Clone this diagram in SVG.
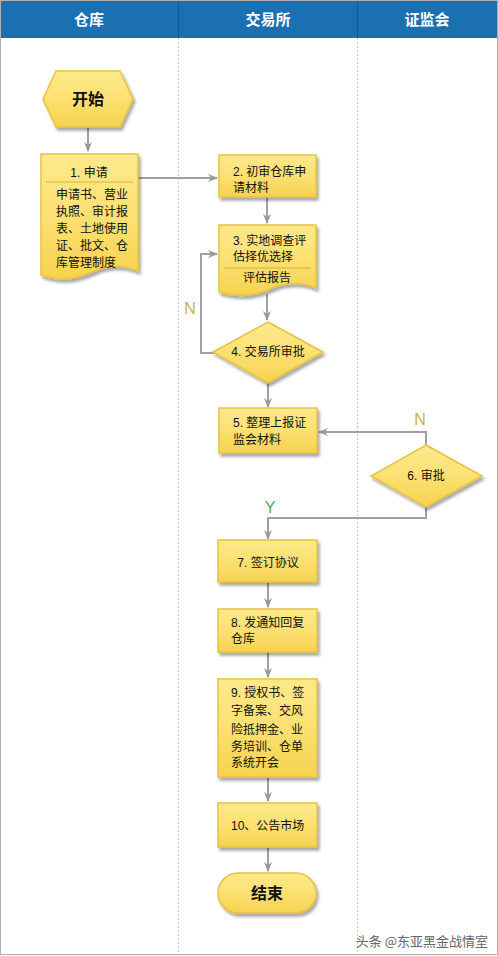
<svg xmlns="http://www.w3.org/2000/svg" width="498" height="956" viewBox="0 0 498 956">
<defs>
<linearGradient id="yg" x1="0" y1="0" x2="0" y2="1">
<stop offset="0" stop-color="#fde98c"/>
<stop offset="0.5" stop-color="#fce072"/>
<stop offset="1" stop-color="#f6d24e"/>
</linearGradient>
<filter id="sh" x="-10%" y="-10%" width="130%" height="130%">
<feGaussianBlur in="SourceAlpha" stdDeviation="1.5"/>
<feOffset dx="2" dy="3" result="b"/>
<feComponentTransfer><feFuncA type="linear" slope="0.35"/></feComponentTransfer>
<feMerge><feMergeNode/><feMergeNode in="SourceGraphic"/></feMerge>
</filter>
<marker id="ah" markerWidth="10" markerHeight="10" refX="9" refY="5" orient="auto" markerUnits="userSpaceOnUse">
<path d="M0,1 L10,5 L0,9 L3,5 Z" fill="#999"/>
</marker>
</defs>
<style>
.shape{fill:url(#yg);stroke:#e6c33c;stroke-width:1.5;filter:url(#sh)}
.t{font-family:"Liberation Sans","Noto Sans CJK SC",sans-serif;font-size:12px;fill:#111}
.b{font-family:"Noto Sans CJK SC","Liberation Sans",sans-serif;font-size:16px;font-weight:bold;fill:#111}
.h{font-family:"Noto Sans CJK SC","Liberation Sans",sans-serif;font-size:15px;font-weight:bold;fill:#fff}
.c{stroke:#a0a0a0;stroke-width:2;fill:none}
.sep{stroke:#c9a92a;stroke-width:0.8}
.lane{stroke:#cccccc;stroke-width:1;stroke-dasharray:2,2}
.lbl{font-family:"Liberation Sans","DejaVu Sans",sans-serif;font-size:16px}
</style>
<rect x="0" y="0" width="498" height="956" fill="#ffffff"/>
<g id="lanes">
<rect x="0" y="0" width="498" height="38" fill="#1a70b1"/>
<line x1="178.5" y1="0" x2="178.5" y2="38" stroke="#0f5a94" stroke-width="1"/>
<line x1="357.5" y1="0" x2="357.5" y2="38" stroke="#0f5a94" stroke-width="1"/>
<line class="lane" x1="178.5" y1="38" x2="178.5" y2="954"/>
<line class="lane" x1="357.5" y1="38" x2="357.5" y2="954"/>
<text class="h" x="89" y="25" text-anchor="middle">仓库</text>
<text class="h" x="268" y="25" text-anchor="middle">交易所</text>
<text class="h" x="427" y="25" text-anchor="middle">证监会</text>
<rect x="0.5" y="0.5" width="497" height="954" fill="none" stroke="#b0b0b0" stroke-width="1"/>
</g>
<g id="connectors">
<line class="c" x1="88" y1="128" x2="88" y2="151" marker-end="url(#ah)"/>
<line class="c" x1="138" y1="178" x2="217" y2="178" marker-end="url(#ah)"/>
<line class="c" x1="267" y1="197" x2="267" y2="223" marker-end="url(#ah)"/>
<line class="c" x1="267" y1="294" x2="267" y2="320" marker-end="url(#ah)"/>
<polyline class="c" points="215,353 201,353 201,254 217,254" marker-end="url(#ah)"/>
<line class="c" x1="268" y1="383" x2="268" y2="407" marker-end="url(#ah)"/>
<polyline class="c" points="426,445 426,432 319,432" marker-end="url(#ah)"/>
<polyline class="c" points="426,507 426,518 268,518 268,539" marker-end="url(#ah)"/>
<line class="c" x1="268" y1="582" x2="268" y2="607" marker-end="url(#ah)"/>
<line class="c" x1="268" y1="652" x2="268" y2="677" marker-end="url(#ah)"/>
<line class="c" x1="268" y1="777" x2="268" y2="801" marker-end="url(#ah)"/>
<line class="c" x1="268" y1="847" x2="268" y2="871" marker-end="url(#ah)"/>
<text class="lbl" x="190" y="314" text-anchor="middle" fill="#c8b43a">N</text>
<text class="lbl" x="420" y="425" text-anchor="middle" fill="#c8b43a">N</text>
<text class="lbl" x="270" y="513" text-anchor="middle" fill="#4caf3a">Y</text>
</g>
<g id="start">
<polygon class="shape" points="56,71 120,71 133,99 120,127 56,127 43,99"/>
<text class="b" x="88" y="105" text-anchor="middle">开始</text>
</g>
<g id="n1">
<path class="shape" d="M41,154 H138 V271 Q114,261 90,273 Q65,284 41,275 Z"/>
<text class="t" x="89" y="177" text-anchor="middle">1. 申请</text>
<line class="sep" x1="46" y1="182" x2="133" y2="182"/>
<text class="t" x="56" y="199">申请书、营业</text>
<text class="t" x="56" y="216">执照、审计报</text>
<text class="t" x="56" y="233">表、土地使用</text>
<text class="t" x="56" y="250">证、批文、仓</text>
<text class="t" x="56" y="267">库管理制度</text>
</g>
<g id="n2">
<rect class="shape" x="219" y="155" width="97" height="42"/>
<text class="t" x="233" y="176">2. 初审仓库申</text>
<text class="t" x="233" y="192">请材料</text>
</g>
<g id="n3">
<path class="shape" d="M219,225 H316 V288 Q292,278 268,290 Q243,300 219,292 Z"/>
<text class="t" x="233" y="245">3. 实地调查评</text>
<text class="t" x="233" y="261">估择优选择</text>
<line class="sep" x1="224" y1="268" x2="311" y2="268"/>
<text class="t" x="267" y="282" text-anchor="middle">评估报告</text>
</g>
<g id="n4">
<polygon class="shape" points="268,322 323,352 268,383 213,352"/>
<text class="t" x="268" y="356" text-anchor="middle">4. 交易所审批</text>
</g>
<g id="n5">
<rect class="shape" x="219" y="408" width="98" height="45"/>
<text class="t" x="233" y="427">5. 整理上报证</text>
<text class="t" x="233" y="444">监会材料</text>
</g>
<g id="n6">
<polygon class="shape" points="426,445 482,476 426,507 371,476"/>
<text class="t" x="426" y="480" text-anchor="middle">6. 审批</text>
</g>
<g id="n7">
<rect class="shape" x="218" y="540" width="99" height="42"/>
<text class="t" x="268" y="567" text-anchor="middle">7. 签订协议</text>
</g>
<g id="n8">
<rect class="shape" x="218" y="609" width="99" height="43"/>
<text class="t" x="231" y="627">8. 发通知回复</text>
<text class="t" x="231" y="643">仓库</text>
</g>
<g id="n9">
<rect class="shape" x="218" y="679" width="99" height="98"/>
<text class="t" x="231" y="697">9. 授权书、签</text>
<text class="t" x="231" y="715">字备案、交风</text>
<text class="t" x="231" y="734">险抵押金、业</text>
<text class="t" x="231" y="751">务培训、仓单</text>
<text class="t" x="231" y="767">系统开会</text>
</g>
<g id="n10">
<rect class="shape" x="218" y="803" width="99" height="44"/>
<text class="t" x="231" y="830">10、公告市场</text>
</g>
<g id="end">
<rect class="shape" x="218" y="873" width="98" height="40" rx="20" ry="20"/>
<text class="b" x="267" y="899" text-anchor="middle">结束</text>
</g>
<text x="488" y="946" text-anchor="end" font-family="Noto Sans CJK SC,sans-serif" font-size="13" fill="#666">头条 @东亚黑金战情室</text>
</svg>
